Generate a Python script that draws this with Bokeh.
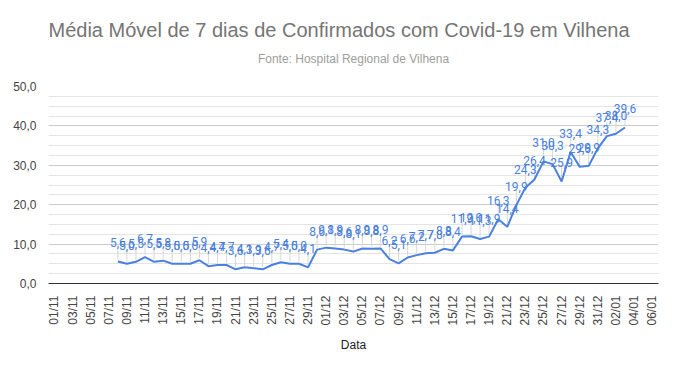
import math
import pandas as pd
from bokeh.plotting import figure
from bokeh.models import ColumnDataSource, Range1d, FixedTicker, LinearAxis
from bokeh.embed import file_html
from bokeh.resources import INLINE
from bokeh.core.properties import value

# ---- texts ----
title_text = "Média Móvel de 7 dias de Confirmados com Covid-19 em Vilhena"
subtitle_text = "Fonte: Hospital Regional de Vilhena"
x_axis_title = "Data"

# ---- categories (x axis: every day from 01/11 to 06/01) ----
axis_dates = [d.strftime("%d/%m") for d in pd.date_range("2020-11-01", "2021-01-06")]
series_start = "08/11"

# ---- series values: 7-day moving average, 08/11 .. 03/01 ----
media_movel = [
    5.6, 5.0, 5.5, 6.7, 5.5, 5.8, 5.0, 5.0, 5.0, 5.9,
    4.4, 4.7, 4.7, 3.6, 4.1, 3.9, 3.6, 4.7, 5.4, 5.0,
    5.0, 4.1, 8.6, 9.1, 8.9, 8.6, 8.1, 8.9, 8.8, 8.9,
    6.2, 5.1, 6.6, 7.2, 7.7, 7.8, 8.8, 8.4, 11.9, 12.0,
    11.3, 11.9, 16.3, 14.4, 19.9, 24.3, 26.4, 31.0, 30.3, 25.9,
    33.4, 29.6, 29.9, 34.3, 37.4, 38.0, 39.6,
]

# ---- y axis ticks ----
y_ticks = [0, 10, 20, 30, 40, 50]
y_tick_labels = ["0,0", "10,0", "20,0", "30,0", "40,0", "50,0"]

start = axis_dates.index(series_start)
xs = list(range(start, start + len(media_movel)))
point_labels = [f"{v:.1f}".replace(".", ",") for v in media_movel]

y_max = y_ticks[-1]
frame_h = 197.0
units_per_px = y_max / frame_h

src = ColumnDataSource(dict(
    x=xs, y=media_movel, lab=point_labels,
    y0=[v + 2 * units_per_px for v in media_movel],
    y1=[v + 14 * units_per_px for v in media_movel],
))

FONT = "Liberation Sans"
LABEL_FONT = "Roboto"
LINE_COLOR = "#4a80de"

p = figure(width=661, height=355, output_backend="svg", toolbar_location=None,
           x_range=Range1d(-0.66, len(axis_dates) - 0.3),
           y_range=Range1d(0, y_max),
           min_border_left=48, min_border_right=3, min_border_bottom=72, min_border_top=86,
           outline_line_color=None)

# subtitle: label of a tick-less axis above the frame
sub_axis = LinearAxis(ticker=FixedTicker(ticks=[]), axis_line_color=None,
                      major_tick_line_color=None, minor_tick_line_color=None,
                      major_tick_in=0, major_tick_out=0, minor_tick_in=0, minor_tick_out=0,
                      major_label_standoff=0,
                      axis_label=subtitle_text, axis_label_standoff=21,
                      axis_label_text_font=FONT, axis_label_text_font_size="12px",
                      axis_label_text_font_style="normal", axis_label_text_color="#9e9e9e")
p.add_layout(sub_axis, "above")

p.title.text = title_text
p.title.align = "left"
p.title.offset = 0
p.title.vertical_align = "middle"
p.title.text_font = FONT
p.title.text_font_size = "20px"
p.title.text_font_style = "normal"
p.title.text_color = "#757575"
p.title.standoff = 13

# x axis
x_ticks = list(range(0, len(axis_dates), 2))
xaxis = p.below[0]
xaxis.ticker = FixedTicker(ticks=x_ticks)
xaxis.major_label_overrides = {i: axis_dates[i] for i in x_ticks}
xaxis.major_label_orientation = math.pi / 2
xaxis.major_label_text_font = FONT
xaxis.major_label_text_font_size = "12px"
xaxis.major_label_text_color = "#444444"
xaxis.major_tick_line_color = None
xaxis.minor_tick_line_color = None
xaxis.major_label_standoff = 6
xaxis.axis_line_color = "#333333"
xaxis.axis_line_width = 1
xaxis.axis_label = x_axis_title
xaxis.axis_label_text_font = FONT
xaxis.axis_label_text_font_size = "12px"
xaxis.axis_label_text_font_style = "normal"
xaxis.axis_label_text_color = "#222222"
xaxis.axis_label_standoff = 9
p.xgrid.grid_line_color = None

# y axis
minor = [k * 2.5 for k in range(0, 21) if (k * 2.5) not in y_ticks]
p.yaxis.ticker = FixedTicker(ticks=y_ticks, minor_ticks=minor)
p.yaxis.major_label_overrides = dict(zip(y_ticks, y_tick_labels))
p.yaxis.major_label_text_font = FONT
p.yaxis.major_label_text_font_size = "12px"
p.yaxis.major_label_text_color = "#444444"
p.yaxis.major_tick_line_color = None
p.yaxis.minor_tick_line_color = None
p.yaxis.axis_line_color = None
p.yaxis.major_label_standoff = 6
p.ygrid.grid_line_color = "#cccccc"
p.ygrid.minor_grid_line_color = "#e4e4e4"

# leader lines, line, data labels
p.segment(x0="x", y0="y0", x1="x", y1="y1", source=src, line_color="#d6d6d6", line_width=1)
p.line(x="x", y="y", source=src, line_color=LINE_COLOR, line_width=2)
p.text(x="x", y="y", text="lab", source=src, text_align="center", text_baseline="bottom",
       y_offset=-14, text_font=value(LABEL_FONT), text_font_size="12px", text_color=LINE_COLOR)

open("out.html", "w").write(file_html(p, INLINE))
